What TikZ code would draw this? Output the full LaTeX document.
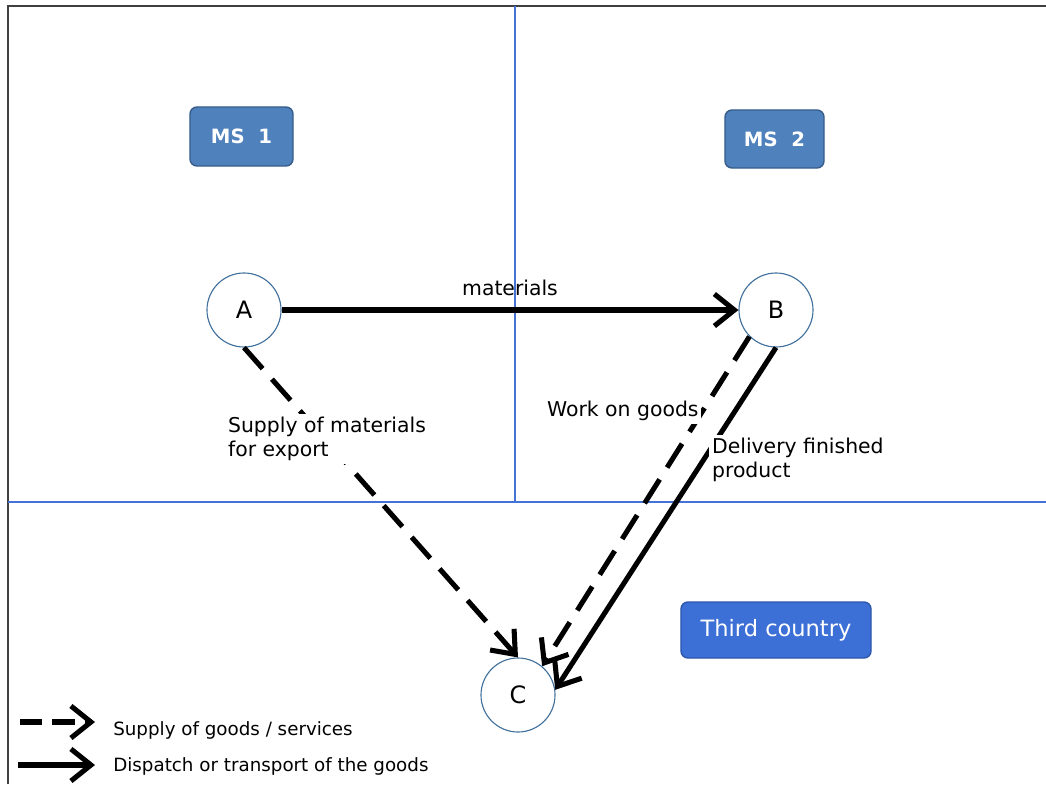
\documentclass[tikz,border=0pt]{standalone}
\usepackage{fontspec}
\setmainfont{DejaVu Sans}
\usepackage{xcolor}
\usetikzlibrary{arrows.meta}

\definecolor{msfill}{RGB}{79,129,189}
\definecolor{msedge}{RGB}{56,93,138}
\definecolor{thirdfill}{RGB}{61,112,214}
\definecolor{thirdedge}{RGB}{45,86,170}
\definecolor{ringblue}{RGB}{65,113,156}
\definecolor{splitblue}{RGB}{68,114,214}

\tikzset{
  msbox/.style={draw=msedge, fill=msfill, line width=1pt, rounded corners=5pt,
    text=white, font=\bfseries\fontsize{14}{16}\selectfont},
  place/.style={circle, draw=ringblue, line width=0.8pt, fill=white,
    minimum size=1.85cm, inner sep=0pt, font=\fontsize{17}{20}\selectfont},
  supply/.style={line width=3.6pt, dash pattern=on 20pt off 10pt,
    -{Straight Barb[length=5mm, width=8mm]}},
  dispatch/.style={line width=3.6pt, -{Straight Barb[length=5mm, width=8mm]}},
  note/.style={fill=white, align=left, inner sep=2pt, anchor=west,
    font=\fontsize{14.5}{17}\selectfont},
  key/.style={align=left, inner sep=0pt, anchor=west, font=\fontsize{13}{16}\selectfont}
}

\begin{document}
\begin{tikzpicture}[x=0.025cm, y=-0.025cm]
    \useasboundingbox (0,0) rectangle (1046,784);
    % frame and borders
    \draw[black!75, line width=1.1pt] (8,784) -- (8,6) -- (1046,6);
    \draw[splitblue, line width=0.9pt] (8,502) -- (1046,502);
    \draw[splitblue, line width=0.9pt] (515,6) -- (515,502);

    % member states and third country
    \node[msbox, minimum width=2.575cm, minimum height=1.475cm] (ms1) at (241.5,136.5) {MS\ \ 1};
    \node[msbox, minimum width=2.475cm, minimum height=1.45cm] (ms2) at (774.5,139) {MS\ \ 2};
    \node[msbox, draw=thirdedge, fill=thirdfill, font=\fontsize{16}{19}\selectfont,
      minimum width=4.75cm, minimum height=1.4cm] (third) at (776,630) {Third country};

    % parties
    \node[place] (A) at (244,310) {A};
    \node[place] (B) at (776,310) {B};
    \node[place] (C) at (518,695) {C};

    % flows
    \draw[dispatch] (A) -- (B) node[midway, above=5pt, font=\fontsize{14.5}{17}\selectfont] (mat) {materials};
    \draw[supply] (A.south) -- (C.north);
    \draw[supply] (B.225) -- (C.50);
    \draw[dispatch] (B.south) -- (C.8);

    \node[note] (exp) at (225,439) {Supply of materials\\for export};
    \node[note] (work) at (544,411) {Work on goods};
    \node[note] (deliv) at (709,460) {Delivery finished\\product};

    % legend
    \coordinate (k1a) at (20,722);
    \coordinate (k1b) at (95,722);
    \coordinate (k2a) at (18,765);
    \coordinate (k2b) at (95,765);
    \draw[supply, dash pattern=on 16pt off 7pt] (k1a) -- (k1b);
    \draw[dispatch] (k2a) -- (k2b);
    \node[key] (supkey) at (113,730) {Supply of goods / services};
    \node[key] (diskey) at (113,766) {Dispatch or transport of the goods};
\end{tikzpicture}
\end{document}
